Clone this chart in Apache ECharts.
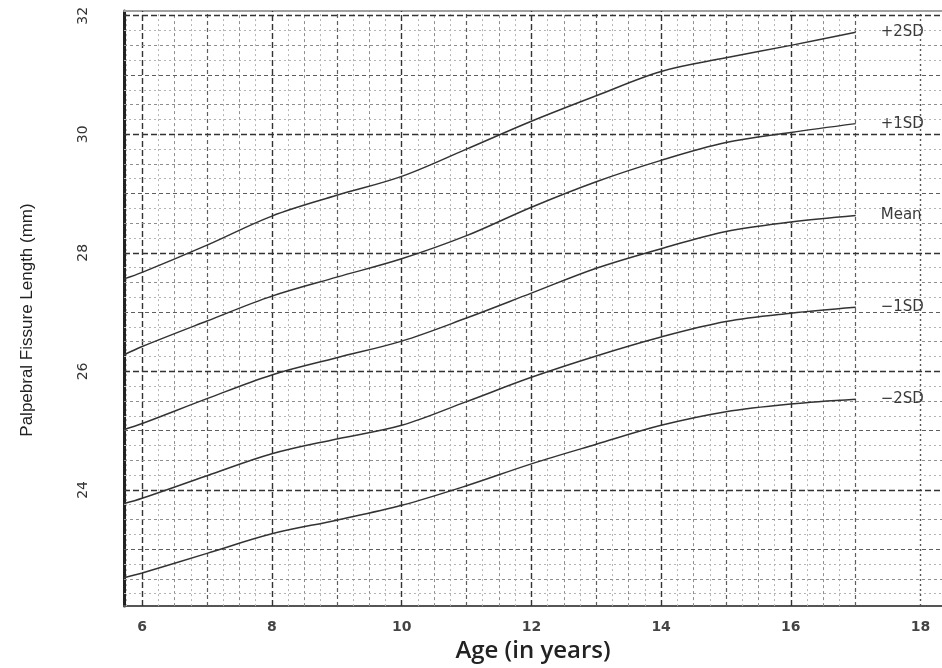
<!DOCTYPE html>
<html><head><meta charset="utf-8">
<script src="https://cdn.jsdelivr.net/npm/echarts@6/dist/echarts.min.js"></script>
<style>html,body{margin:0;padding:0;background:#fff}#c{width:942px;height:668px}</style>
</head><body><div id="c"></div>
<script>
// Age (years) at which curve values were read
const ages = [5.72, 6, 7, 8, 9, 10, 11, 12, 13, 14, 15, 16, 17];
// Palpebral fissure length (mm)
const plus2SD  = [27.56, 27.67, 28.13, 28.62, 28.97, 29.29, 29.75, 30.22, 30.65, 31.06, 31.29, 31.50, 31.72];
const plus1SD  = [26.28, 26.42, 26.85, 27.27, 27.59, 27.90, 28.29, 28.77, 29.20, 29.56, 29.86, 30.03, 30.18];
const meanLine = [25.02, 25.12, 25.54, 25.94, 26.23, 26.51, 26.90, 27.32, 27.74, 28.07, 28.36, 28.52, 28.63];
const minus1SD = [23.77, 23.86, 24.24, 24.61, 24.86, 25.09, 25.49, 25.90, 26.26, 26.58, 26.84, 26.98, 27.08];
const minus2SD = [22.52, 22.60, 22.93, 23.26, 23.49, 23.74, 24.07, 24.44, 24.77, 25.09, 25.32, 25.45, 25.53];
const seriesNames = ['+2SD', '+1SD', 'Mean', '\u22121SD', '\u22122SD'];
const seriesValues = [plus2SD, plus1SD, meanLine, minus1SD, minus2SD];
const xTickLabels = [6, 8, 10, 12, 14, 16, 18];
const yTickLabels = [24, 26, 28, 30, 32];
const xRange = [5.72, 18.33];
const yRange = [22.04, 32.08];

function gridStyle(q) {
  if (q % 8 === 0) return { color: '#333333', width: 1.4, type: [6, 3] };
  if (q % 4 === 0) return { color: '#5e5e5e', width: 1.2, type: [4, 3] };
  if (q % 2 === 0) return { color: '#8e8e8e', width: 1, type: [3, 3] };
  return { color: '#b4b4b4', width: 1, type: [2, 3] };
}
const gridLines = [];
// vertical quarter-year lines up to the last age, plus final major line
for (let q = 23; q <= 68; q++) gridLines.push({ xAxis: q / 4, lineStyle: gridStyle(q) });
gridLines.push({ xAxis: 18, lineStyle: { color: '#555', width: 1.4, type: [2, 3] } });
// horizontal quarter-mm lines
for (let q = 89; q <= 128; q++) gridLines.push({ yAxis: q / 4, lineStyle: gridStyle(q) });

const chart = echarts.init(document.getElementById('c'), null, { renderer: 'canvas' });

const dataSeries = seriesNames.map((name, i) => ({
  name: name,
  type: 'line',
  z: 5,
  smooth: 0.35,
  showSymbol: false,
  symbol: 'none',
  silent: true,
  animation: false,
  data: ages.map((a, j) => [a, seriesValues[i][j]]),
  lineStyle: { color: '#333333', width: 1.5 },
  endLabel: {
    show: true,
    formatter: '{a}',
    distance: 25,
    color: '#3a3a3a',
    fontFamily: 'DejaVu Sans',
    fontSize: 15
  }
}));

chart.setOption({
  animation: false,
  backgroundColor: '#ffffff',
  grid: { left: 124, right: 0, top: 11, bottom: 58, containLabel: false },
  graphic: [{
    type: 'text', x: 27, y: 320, rotation: Math.PI / 2,
    style: {
      text: 'Palpebral Fissure Length (mm)',
      font: '17px "Liberation Sans"', fill: '#222',
      align: 'center', verticalAlign: 'middle'
    }
  }],
  xAxis: [{
    type: 'value', min: xRange[0], max: xRange[1],
    name: 'Age (in years)', nameLocation: 'middle', nameGap: 30,
    nameTextStyle: { fontFamily: 'Open Sans', fontSize: 24, color: '#222', fontWeight: 600 },
    axisLine: { show: true, lineStyle: { color: '#555', width: 2 } },
    axisTick: { show: false },
    splitLine: { show: false },
    axisLabel: {
      customValues: xTickLabels, margin: 14,
      fontFamily: 'DejaVu Sans', fontWeight: 'bold', fontSize: 14, color: '#444'
    }
  }, {
    type: 'value', min: xRange[0], max: xRange[1], position: 'top',
    axisLine: { show: true, lineStyle: { color: '#a0a0a0', width: 2 } },
    axisTick: { show: false }, axisLabel: { show: false }, splitLine: { show: false }
  }],
  yAxis: [{
    type: 'value', min: yRange[0], max: yRange[1],
    axisLine: { show: true, lineStyle: { color: '#222', width: 3 } },
    axisTick: { show: false },
    splitLine: { show: false },
    axisLabel: {
      customValues: yTickLabels, margin: 34, rotate: 90,
      fontFamily: 'DejaVu Sans', fontSize: 14, color: '#333'
    }
  }],
  series: [{
    name: 'grid', type: 'line', z: 1, data: [], silent: true, animation: false,
    markLine: {
      silent: true, animation: false, symbol: ['none', 'none'],
      label: { show: false },
      emphasis: { disabled: true },
      data: gridLines
    }
  }].concat(dataSeries)
});
</script>
</body></html>
